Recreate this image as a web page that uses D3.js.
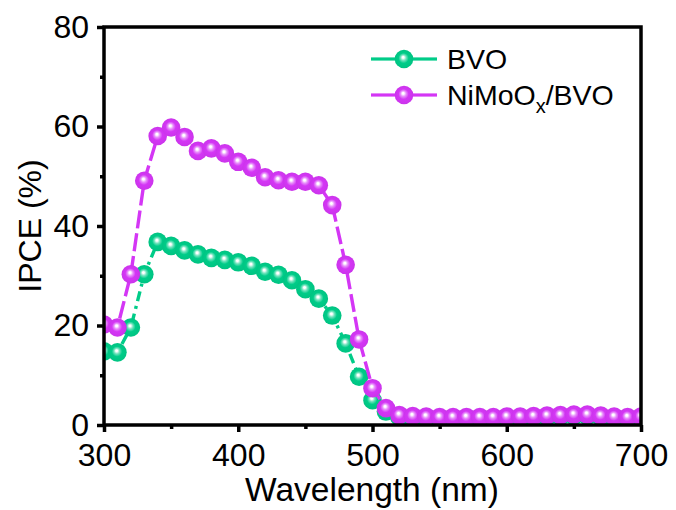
<!DOCTYPE html>
<html>
<head>
<meta charset="utf-8">
<script src="https://cdn.jsdelivr.net/npm/d3@7"></script>
<style>
  html, body { margin: 0; padding: 0; background: #fff; }
  svg { display: block; font-family: "Liberation Sans", Arial, sans-serif; }
</style>
</head>
<body>
<svg id="chart" width="676" height="510"></svg>
<script>
const wavelengths = [300,310,320,330,340,350,360,370,380,390,400,410,420,430,440,450,460,470,480,490,500,
  510,520,530,540,550,560,570,580,590,600,610,620,630,640,650,660,670,680,690,700];
const bvo = [14.8,14.6,19.6,30.3,36.8,36.0,35.1,34.3,33.6,33.2,32.7,32.0,30.8,30.2,29.1,27.3,25.4,22.0,16.4,9.7,5.0,
  2.7,1.6,1.3,1.2,1.2,1.2,1.2,1.2,1.3,1.3,1.4,1.5,1.6,1.7,1.8,1.8,1.6,1.4,1.3,1.3];
const nimoo = [20.2,19.6,30.3,49.1,58.1,59.8,57.9,55.1,55.6,54.6,52.9,51.7,49.8,49.2,48.9,48.9,48.2,44.2,32.2,17.2,7.4,
  3.4,2.0,1.8,1.7,1.6,1.6,1.6,1.6,1.6,1.7,1.7,1.8,1.9,2.0,2.1,2.1,1.9,1.7,1.6,1.7];
const xTicks = [300,400,500,600,700];
const xMinor = [350,450,550,650];
const yTicks = [0,20,40,60,80];
const yMinor = [10,30,50,70];
const seriesNames = ["BVO", "NiMoOx/BVO"];
const seriesColors = ["#00CC88", "#D436F5"];

const svg = d3.select("#chart");
const L = 104, R = 641, T = 27, B = 425;
const x = d3.scaleLinear().domain([300,700]).range([L,R]);
const y = d3.scaleLinear().domain([0,80]).range([B,T]);

// gradients
const defs = svg.append("defs");
seriesColors.forEach((c,i) => {
  const g = defs.append("radialGradient").attr("id","ball"+i)
    .attr("cx","50%").attr("cy","50%").attr("r","50%").attr("fx","45%").attr("fy","40%");
  const base = d3.color(c);
  g.append("stop").attr("offset","0%").attr("stop-color","#ffffff");
  g.append("stop").attr("offset","10%").attr("stop-color","#ffffff");
  g.append("stop").attr("offset","30%").attr("stop-color", d3.interpolateRgb(c,"#ffffff")(0.45));
  g.append("stop").attr("offset","55%").attr("stop-color", c);
  g.append("stop").attr("offset","100%").attr("stop-color", base.darker(0.12).toString());
});
defs.append("clipPath").attr("id","plotclip").append("rect")
  .attr("x",L).attr("y",T).attr("width",R-L).attr("height",B-T);

const plot = svg.append("g").attr("clip-path","url(#plotclip)");
const line = d3.line().x((d,i)=>x(wavelengths[i])).y(d=>y(d));
const dashes = ["10,5,3,5", "18,5"];
[bvo, nimoo].forEach((vals, si) => {
  plot.append("path").datum(vals).attr("d", line)
    .attr("fill","none").attr("stroke", seriesColors[si]).attr("stroke-width",3.4)
    .attr("stroke-dasharray", dashes[si]);
  plot.selectAll(null).data(vals).enter().append("circle")
    .attr("cx",(d,i)=>x(wavelengths[i])).attr("cy",d=>y(d)).attr("r",9.3)
    .attr("fill","url(#ball"+si+")");
});

// axes
const ax = svg.append("g");
const xAxis = ax.append("g").attr("transform",`translate(0,${B})`)
  .call(d3.axisBottom(x).tickValues(xTicks).tickSize(7).tickSizeOuter(0).tickPadding(11).tickFormat(d3.format("d")));
const xAxisMinor = ax.append("g").attr("transform",`translate(0,${B})`)
  .call(d3.axisBottom(x).tickValues(xMinor).tickSize(4).tickSizeOuter(0).tickFormat(""));
const yAxis = ax.append("g").attr("transform",`translate(${L},0)`)
  .call(d3.axisLeft(y).tickValues(yTicks).tickSize(7).tickSizeOuter(0).tickPadding(8).tickFormat(d3.format("d")));
const yAxisMinor = ax.append("g").attr("transform",`translate(${L},0)`)
  .call(d3.axisLeft(y).tickValues(yMinor).tickSize(4).tickSizeOuter(0).tickFormat(""));
[xAxis,xAxisMinor,yAxis,yAxisMinor].forEach(g => {
  g.select(".domain").remove();
  g.selectAll(".tick line").attr("stroke","#000").attr("stroke-width",3.5);
  g.selectAll(".tick text").attr("fill","#000").attr("font-size",32)
    .attr("font-family","'Liberation Sans', Arial, sans-serif");
});
xAxisMinor.selectAll(".tick text").remove();
yAxisMinor.selectAll(".tick text").remove();
xAxis.selectAll(".tick text").attr("dy","0.71em");
// frame
svg.append("rect").attr("x",L).attr("y",T).attr("width",R-L).attr("height",B-T)
  .attr("fill","none").attr("stroke","#000").attr("stroke-width",3.5);

// axis titles
svg.append("text").attr("x",372).attr("y",501).attr("text-anchor","middle")
  .attr("font-size",33.5).attr("fill","#000").text("Wavelength (nm)");
svg.append("text").attr("transform","translate(41,226) rotate(-90)").attr("text-anchor","middle")
  .attr("font-size",32).attr("fill","#000").text("IPCE (%)");

// legend
const legY = [59, 95];
seriesNames.forEach((name, i) => {
  const g = svg.append("g");
  g.append("line").attr("x1",371).attr("x2",395).attr("y1",legY[i]).attr("y2",legY[i])
    .attr("stroke",seriesColors[i]).attr("stroke-width",3.2);
  g.append("line").attr("x1",413).attr("x2",437).attr("y1",legY[i]).attr("y2",legY[i])
    .attr("stroke",seriesColors[i]).attr("stroke-width",3.2);
  g.append("circle").attr("cx",404).attr("cy",legY[i]).attr("r",9.3).attr("fill","url(#ball"+i+")");
  const t = g.append("text").attr("x",447).attr("y",legY[i]+10).attr("font-size",28.5).attr("fill","#000");
  if (name === "NiMoOx/BVO") {
    t.append("tspan").text("NiMoO");
    t.append("tspan").attr("font-size",20).attr("dy",8).text("x");
    t.append("tspan").attr("dy",-8).text("/BVO");
  } else {
    t.text(name);
  }
});
</script>
</body>
</html>
